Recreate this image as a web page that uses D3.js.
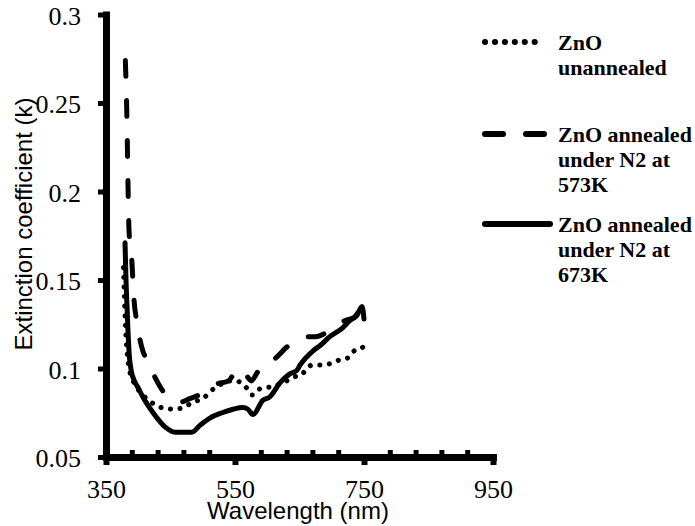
<!DOCTYPE html>
<html>
<head>
<meta charset="utf-8">
<script src="https://cdn.jsdelivr.net/npm/d3@7"></script>
<style>
  body { margin: 0; background: #fff; }
  svg { display: block; }
</style>
</head>
<body>
<svg id="chart" width="695" height="526"></svg>
<script>
// Datos
var xTicks = [350, 550, 750, 950];
var xMinorTicks = [390, 430, 470, 510, 590, 630, 670, 710, 790, 830, 870, 910];
var yTicks = [0.05, 0.1, 0.15, 0.2, 0.25, 0.3];

// ZnO sin recocer (punteada)
var lambdaUnannealed = [377, 378.5, 380, 382.5, 386, 392, 400, 410, 420, 435, 455, 470, 485, 500, 515, 528, 538, 548, 560, 568, 577, 585, 597, 610, 625, 640, 655, 660, 672, 685, 700, 713, 725, 735, 745, 750];
var kUnannealed = [0.157, 0.140, 0.125, 0.110, 0.100, 0.093, 0.088, 0.084, 0.081, 0.078, 0.077, 0.078, 0.081, 0.083, 0.088, 0.091, 0.093, 0.093, 0.092, 0.089, 0.085, 0.088, 0.089, 0.090, 0.092, 0.095, 0.097, 0.100, 0.102, 0.102, 0.103, 0.105, 0.106, 0.110, 0.111, 0.113];

// ZnO recocido 573K (discontinua)
var lambda573 = [380, 382.5, 384, 385.7, 390, 393.4, 398, 407, 413.5, 426, 441, 452, 465, 480, 500, 520, 540, 555, 562, 570, 575, 585, 593, 610, 630, 645, 660, 675, 690, 705, 720, 735, 745, 750];
var k573 = [0.274, 0.240, 0.206, 0.178, 0.161, 0.139, 0.126, 0.110, 0.105, 0.095, 0.086, 0.083, 0.081, 0.083, 0.086, 0.091, 0.093, 0.100, 0.099, 0.095, 0.093, 0.098, 0.102, 0.105, 0.112, 0.116, 0.118, 0.118, 0.120, 0.124, 0.127, 0.129, 0.133, 0.130];

// ZnO recocido 673K (continua)
var lambda673 = [379.5, 381, 382.6, 384, 386, 389, 394, 400, 407, 423, 441.5, 457, 483, 496, 511, 530, 547, 562, 570, 578, 593, 604, 620, 635, 646, 651, 671, 682, 697, 717, 728, 739, 747, 750];
var k673 = [0.171, 0.150, 0.135, 0.122, 0.108, 0.099, 0.093, 0.089, 0.084, 0.075, 0.067, 0.064, 0.064, 0.068, 0.072, 0.075, 0.077, 0.078, 0.077, 0.074, 0.082, 0.084, 0.092, 0.097, 0.099, 0.102, 0.110, 0.113, 0.118, 0.123, 0.127, 0.130, 0.135, 0.128];

var seriesNames = ["ZnO unannealed", "ZnO annealed under N2 at 573K", "ZnO annealed under N2 at 673K"];
var legendLines = [["ZnO", "unannealed"], ["ZnO annealed", "under N2 at", "573K"], ["ZnO annealed", "under N2 at", "673K"]];

var svg = d3.select("#chart");

var x = d3.scaleLinear().domain([350, 950]).range([106, 493]);
var y = d3.scaleLinear().domain([0.05, 0.3]).range([457, 14.5]);

var series = [
    { name: seriesNames[0], values: lambdaUnannealed.map((l, i) => [l, kUnannealed[i]]), dash: "0.1 9.5" },
    { name: seriesNames[1], values: lambda573.map((l, i) => [l, k573[i]]), dash: "16 24" },
    { name: seriesNames[2], values: lambda673.map((l, i) => [l, k673[i]]), dash: null }
];

var line = d3.line()
    .x(d => x(d[0]))
    .y(d => y(d[1]))
    .curve(d3.curveMonotoneX);

// Curvas
series.forEach(function(s) {
    svg.append("path")
        .datum(s.values)
        .attr("fill", "none")
        .attr("stroke", "#000")
        .attr("stroke-width", 5)
        .attr("stroke-linecap", "round")
        .attr("stroke-linejoin", "round")
        .attr("stroke-dasharray", s.dash)
        .attr("d", line);
});

// Eje X: marcas menores
svg.append("g")
    .attr("transform", "translate(0,457)")
    .call(d3.axisBottom(x).tickValues(xMinorTicks).tickSize(-7).tickSizeOuter(0).tickFormat(""))
    .call(g => g.select(".domain").remove())
    .call(g => g.selectAll(".tick line").attr("stroke-width", 5));

// Eje X
svg.append("g")
    .attr("transform", "translate(0,457)")
    .call(d3.axisBottom(x).tickValues(xTicks).tickSize(8).tickSizeOuter(0).tickPadding(15).tickFormat(d3.format("d")))
    .call(g => g.select(".domain").attr("stroke-width", 7).attr("stroke-linecap", "square"))
    .call(g => g.selectAll(".tick line").attr("stroke-width", 6))
    .call(g => g.selectAll(".tick text")
        .attr("font-family", "Liberation Serif, serif")
        .attr("font-size", 26)
        .attr("fill", "#000"));

// Eje Y
svg.append("g")
    .attr("transform", "translate(106,0)")
    .call(d3.axisLeft(y).tickValues(yTicks).tickSize(8).tickSizeOuter(0).tickPadding(17).tickFormat(d => String(+d.toFixed(2))))
    .call(g => g.select(".domain").attr("stroke-width", 7).attr("stroke-linecap", "square"))
    .call(g => g.selectAll(".tick line").attr("stroke-width", 5))
    .call(g => g.selectAll(".tick text")
        .attr("font-family", "Liberation Serif, serif")
        .attr("font-size", 26)
        .attr("dy", "0.38em")
        .attr("fill", "#000"));

// Titulos de ejes
svg.append("text")
    .attr("x", 298)
    .attr("y", 519)
    .attr("text-anchor", "middle")
    .attr("font-family", "Liberation Sans, Arial, sans-serif")
    .attr("font-size", 24)
    .text("Wavelength (nm)");

svg.append("text")
    .attr("transform", "translate(32,224) rotate(-90)")
    .attr("text-anchor", "middle")
    .attr("font-family", "Liberation Sans, Arial, sans-serif")
    .attr("font-size", 24)
    .text("Extinction coefficient (k)");

// Leyenda
var legendBase = [50, 142, 232];
var legendDash = ["0.1 9.83", "18 23", null];
legendLines.forEach(function(lines, i) {
    var g = svg.append("g");
    g.append("line")
        .attr("x1", 485).attr("x2", i === 2 ? 550 : 544.1)
        .attr("y1", legendBase[i] - 8).attr("y2", legendBase[i] - 8)
        .attr("stroke", "#000")
        .attr("stroke-width", 6)
        .attr("stroke-linecap", "round")
        .attr("stroke-dasharray", legendDash[i]);
    var t = g.append("text")
        .attr("x", 558)
        .attr("y", legendBase[i])
        .attr("font-family", "Liberation Serif, serif")
        .attr("font-weight", "bold")
        .attr("font-size", 22);
    lines.forEach(function(l, j) {
        t.append("tspan").attr("x", 558).attr("dy", j === 0 ? 0 : 25).text(l);
    });
});
</script>
</body>
</html>
